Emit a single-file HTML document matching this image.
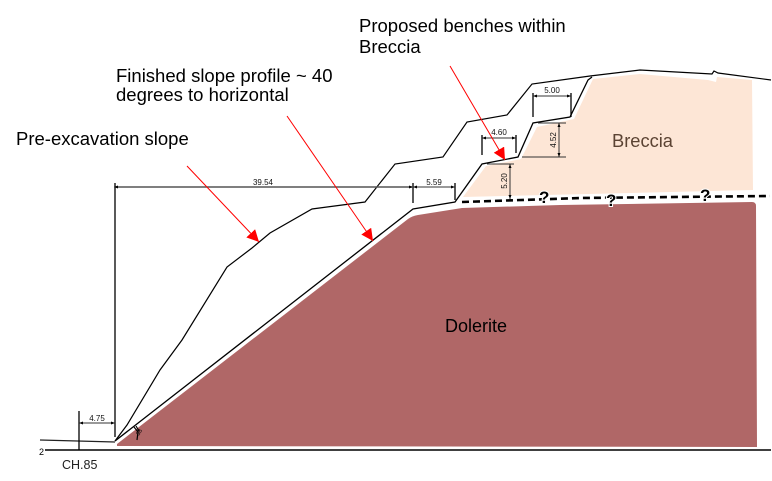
<!DOCTYPE html>
<html><head><meta charset="utf-8"><style>
html,body{margin:0;padding:0;background:#fff;}
svg{display:block;}
text{font-family:"Liberation Sans",Arial,sans-serif;}
</style></head><body>
<svg width="772" height="481" viewBox="0 0 772 481" xmlns="http://www.w3.org/2000/svg">
<defs>
<marker id="ar" markerUnits="userSpaceOnUse" markerWidth="13" markerHeight="12" refX="12" refY="6" orient="auto">
<path d="M0,0 L12,6 L0,12 Z" fill="#ff0000"/>
</marker>
</defs>
<rect width="772" height="481" fill="#fff"/>
<!-- Dolerite -->
<path d="M117,444 L408,219 Q412,216 418,215 L462,208 L560,205 L752,202 Q756,202 756,206 L757,447 L117,446 Z" fill="#b06767"/>
<!-- Breccia -->
<path d="M463,197 L486,166 L521,159 L537,127 L574,119 L593,79 L640,74 L708,80 L716,82 L717,77 L752,80 L753,190 Z" fill="#fde6d6"/>
<!-- ground -->
<line x1="45" y1="450" x2="771" y2="450" stroke="#000" stroke-width="1.6"/>
<path d="M40,440 L115,442" stroke="#222" stroke-width="1.3" fill="none"/>
<!-- profiles -->
<path d="M115,441 L413,209 L455,202 L482,164 L518,157 L533,123 L570,117 L588,80 L592,77" stroke="#000" stroke-width="1.3" fill="none"/>
<path d="M115,441 L127,425 L160,370 L182,340 L227,267 L252,248 L270,233 L312,209 L327,207 L365,202 L395,164 L443,157 L467,122 L507,115 L532,84 L590,76 L640,70 L712,74 L714,71 L718,73 L771,80" stroke="#000" stroke-width="1.2" fill="none"/>
<!-- dashed contact -->
<path d="M462,202 L580,198 L770,196" stroke="#000" stroke-width="2.6" stroke-dasharray="7,4" fill="none"/>
<g font-size="17" font-weight="bold" fill="#000" stroke="#fff" stroke-width="2" paint-order="stroke">
<text x="539" y="203">?</text>
<text x="606" y="206">?</text>
<text x="700" y="201">?</text>
</g>
<!-- dimensions -->
<g stroke="#000" stroke-width="1.3" fill="none">
<line x1="79" y1="411" x2="79" y2="450"/>
<line x1="115" y1="183" x2="115" y2="437"/>
<line x1="413" y1="183" x2="413" y2="203"/>
<line x1="455" y1="183" x2="455" y2="200"/>
<line x1="482" y1="135" x2="482" y2="155"/>
<line x1="516" y1="135" x2="516" y2="153"/>
<line x1="533" y1="93" x2="533" y2="117"/>
<line x1="571" y1="93" x2="571" y2="117"/>
</g>
<g stroke="#333" stroke-width="1" fill="none">
<line x1="79" y1="423" x2="115" y2="423"/>
<line x1="114" y1="187" x2="413" y2="187" stroke="#555" stroke-width="1.6"/>
<line x1="413" y1="187" x2="455" y2="187"/>
<line x1="482" y1="138" x2="516" y2="138"/>
<line x1="533" y1="96" x2="571" y2="96"/>
<line x1="559" y1="123" x2="559" y2="157"/>
<line x1="538" y1="123" x2="566" y2="123"/>
<line x1="522" y1="157" x2="566" y2="157"/>
<line x1="510" y1="164" x2="510" y2="199"/>
<line x1="487" y1="164" x2="514" y2="164"/>
</g>
<g fill="#000">
<path d="M79,423 l4,-1.5 v3 z M115,423 l-4,-1.5 v3 z"/>
<path d="M114,187 l4,-1.5 v3 z M413,187 l-4,-1.5 v3 z M413,187 l4,-1.5 v3 z M455,187 l-4,-1.5 v3 z"/>
<path d="M482,138 l4,-1.5 v3 z M516,138 l-4,-1.5 v3 z M533,96 l4,-1.5 v3 z M571,96 l-4,-1.5 v3 z"/>
<path d="M559,123 l-1.5,4 h3 z M559,157 l-1.5,-4 h3 z M510,164 l-1.5,4 h3 z M510,199 l-1.5,-4 h3 z"/>
</g>
<g font-size="8" fill="#111" text-anchor="middle">
<text x="97" y="421">4.75</text>
<text x="263" y="185">39.54</text>
<text x="434" y="185">5.59</text>
<text x="499" y="135">4.60</text>
<text x="552" y="93">5.00</text>
<text transform="translate(556,140) rotate(-90)">4.52</text>
<text transform="translate(507,181) rotate(-90)">5.20</text>
</g>
<!-- angle marker -->
<path d="M134,427 L138,432 L137,440 M136,426 L139,431" stroke="#000" stroke-width="1.2" fill="none"/>
<text font-size="6" transform="translate(139,436) rotate(-60)" fill="#000">38</text>
<!-- red arrows -->
<g stroke="#ff0000" stroke-width="1" fill="none" marker-end="url(#ar)">
<line x1="187" y1="166" x2="259" y2="242"/>
<line x1="287" y1="116" x2="373" y2="241"/>
<line x1="450" y1="66" x2="505" y2="160"/>
</g>
<!-- labels -->
<g font-size="18.5" fill="#000">
<text x="359" y="32">Proposed benches within</text>
<text x="359" y="53">Breccia</text>
<text x="116" y="82">Finished slope profile ~ 40</text>
<text x="116" y="101">degrees to horizontal</text>
<text x="16" y="145">Pre-excavation slope</text>
</g>
<text x="612" y="147" font-size="18.3" fill="#5b4333">Breccia</text>
<text x="445" y="332" font-size="18" fill="#000">Dolerite</text>
<text x="62" y="469" font-size="12.5" fill="#222">CH.85</text>
<text x="39" y="455" font-size="9" fill="#000">2</text>
</svg>
</body></html>
